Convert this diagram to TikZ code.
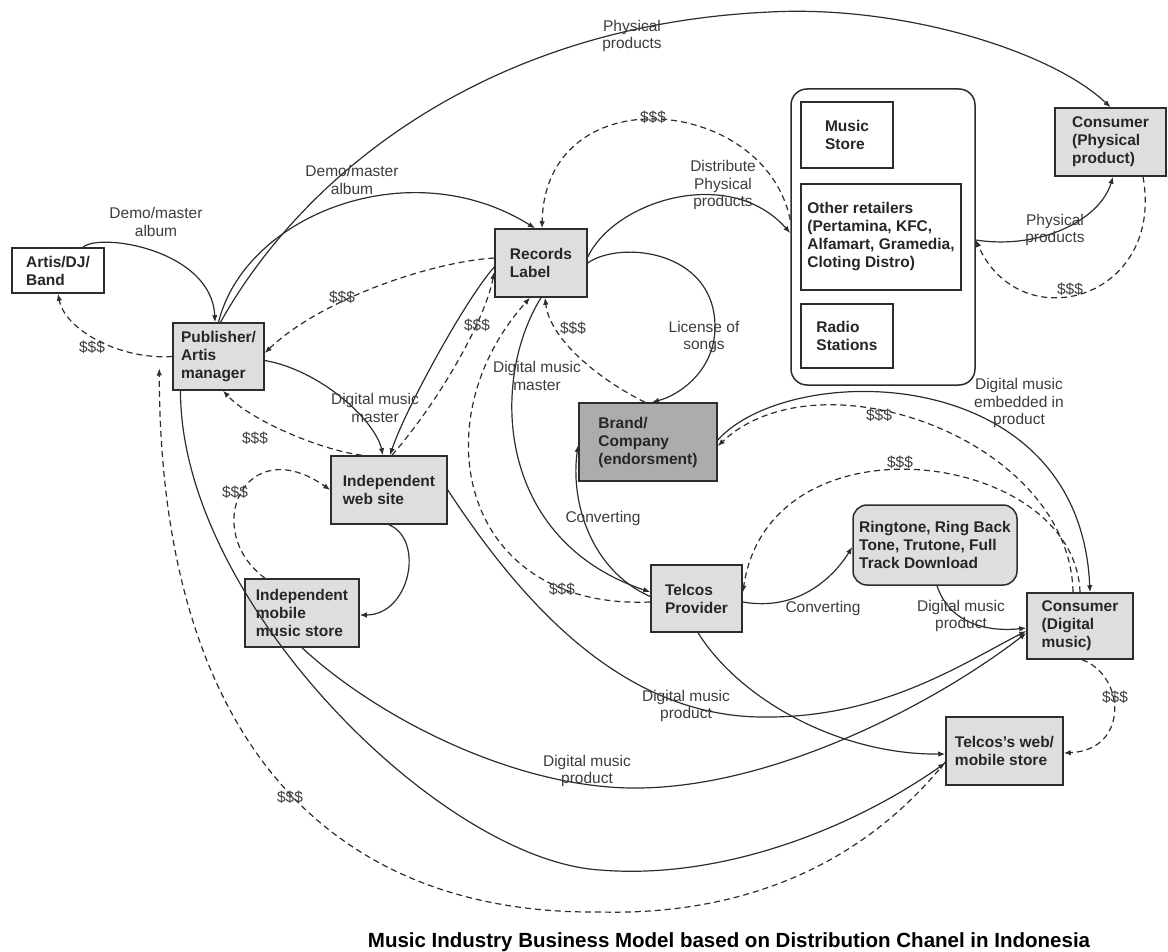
\documentclass[tikz,border=0pt]{standalone}
\usepackage{fontspec}
\setmainfont{Liberation Sans}
\usetikzlibrary{arrows.meta}
\definecolor{boxgray}{RGB}{221,223,221}
\definecolor{brandgray}{RGB}{172,172,172}
\definecolor{linegray}{RGB}{45,45,45}
\definecolor{labelgray}{RGB}{60,60,60}
\begin{document}
\begin{tikzpicture}[x=1pt, y=-1pt,
    box/.style={draw=linegray, line width=1.5pt, fill=boxgray, inner sep=0pt, align=left,
        font=\fontsize{15.5}{18}\selectfont\bfseries, text=black!85},
    lbl/.style={inner sep=0pt, align=center, text=labelgray, font=\fontsize{15.5}{17.5}\selectfont},
    flow/.style={draw=linegray, line width=1.2pt, -{Latex[length=7pt,width=5.5pt]}},
    money/.style={flow, dash pattern=on 6pt off 4pt}]
    \useasboundingbox (0,0) rectangle (1168,952);

    \node[box, fill=white, minimum width=92pt, minimum height=45pt] (artis) at (58,270.5) {Artis/DJ/\\Band};
    \node[box, minimum width=91pt, minimum height=67pt] (pub) at (218.5,356.5) {Publisher/\\Artis\\manager};
    \node[box, minimum width=92pt, minimum height=68pt] (rec) at (541,263) {Records\\Label};
    \node[box, minimum width=116pt, minimum height=68pt] (web) at (389,490) {Independent\\web site};
    \node[box, minimum width=114pt, minimum height=68pt] (mob) at (302,613) {Independent\\mobile\\music store};
    \node[box, fill=brandgray, minimum width=138pt, minimum height=78pt] (brand) at (648,442) {Brand/\\Company\\(endorsment)};
    \node[box, minimum width=91pt, minimum height=67pt] (telco) at (696.5,598.5) {Telcos\\Provider};
    \node[box, rounded corners=14pt, minimum width=164pt, minimum height=80pt] (ring) at (935,545) {Ringtone, Ring Back\\Tone, Trutone, Full\\Track Download};
    \node[box, minimum width=106pt, minimum height=66pt] (consd) at (1080,626) {Consumer\\(Digital\\music)};
    \node[box, minimum width=117pt, minimum height=68pt] (tweb) at (1004.5,751) {Telcos’s web/\\mobile store};
    \node[box, minimum width=111pt, minimum height=68pt] (consp) at (1110.5,142) {Consumer\\(Physical\\product)};
    \node[draw=linegray, line width=1.5pt, rounded corners=16pt, minimum width=184pt, minimum height=296pt, inner sep=0pt] (retail) at (883,237) {};
    \node[box, fill=white, minimum width=92pt, minimum height=66pt] (mstore) at (847,135) {Music\\Store};
    \node[box, fill=white, minimum width=160pt, minimum height=106pt] (others) at (881,237) {Other retailers\\(Pertamina, KFC,\\Alfamart, Gramedia,\\Cloting Distro)};
    \node[box, fill=white, minimum width=92pt, minimum height=64pt] (radio) at (847,336) {Radio\\Stations};

    \draw[flow] ([xshift=25pt]artis.north) .. controls (100,232) and (212,250) .. ([xshift=-3.5pt]pub.north);
    \draw[money] (pub.west) .. controls (120,360) and (65,330) .. (artis.south);
    \draw[flow] (pub.north) .. controls (245,215) and (410,150) .. ([xshift=-6pt]rec.north);
    \draw[flow] ([xshift=2pt]pub.north) .. controls (300,180) and (480,25) .. (770,12) .. controls (900,5) and (1050,50) .. (consp.north);
    \draw[money] ([yshift=5pt]rec.west) .. controls (430,262) and (320,300) .. ([yshift=3.5pt]pub.east);
    \draw[flow] ([yshift=-4pt]pub.east) .. controls (320,370) and (375,420) .. ([xshift=-6pt]web.north);
    \draw[flow] ([yshift=-4pt]rec.west) .. controls (465,300) and (405,410) .. ([xshift=1pt]web.north);
    \draw[money] ([xshift=3pt]web.north) .. controls (440,400) and (485,320) .. ([yshift=-9pt]rec.west);
    \draw[money] ([xshift=-27pt]web.north) .. controls (320,450) and (250,420) .. ([xshift=4.5pt]pub.south);
    \draw[money] ([xshift=-37pt]mob.north) .. controls (200,530) and (245,430) .. (web.west);
    \draw[flow] (web.south) .. controls (425,540) and (410,615) .. ([yshift=-2pt]mob.east);
    \draw[flow] (web.east) .. controls (520,600) and (620,715) .. (760,717) .. controls (880,719) and (960,665) .. ([yshift=-5pt]consd.west);
    \draw[flow] (mob.south) .. controls (380,720) and (520,790) .. (640,788) .. controls (780,786) and (940,700) .. ([yshift=-7pt]consd.west);
    \draw[flow] ([xshift=-38pt]pub.south) .. controls (180,600) and (440,860) .. (600,870) .. controls (720,880) and (850,830) .. ([yshift=-12pt]tweb.west);
    \draw[money] ([yshift=-11pt]tweb.west) .. controls (850,880) and (720,915) .. (600,912) .. controls (330,915) and (160,740) .. ([xshift=-13pt,yshift=-12pt]pub.west);
    \draw[flow] (rec.south) .. controls (490,380) and (495,540) .. ([yshift=6.5pt]telco.west);
    \draw[money] ([yshift=-3.5pt]telco.west) .. controls (460,610) and (420,420) .. ([xshift=-11pt]rec.south);
    \draw[money] ([xshift=-3pt]brand.north) .. controls (600,380) and (550,340) .. ([xshift=4pt]rec.south);
    \draw[flow] (rec.east) .. controls (620,240) and (715,250) .. (715,327) .. controls (715,370) and (680,395) .. ([xshift=4pt]brand.north);
    \draw[flow] ([yshift=6pt]rec.east) .. controls (615,200) and (730,165) .. ([yshift=4pt]retail.west);
    \draw[money] ([yshift=17pt]retail.west) .. controls (765,95) and (545,75) .. ([xshift=1pt]rec.north);
    \draw[flow] ([yshift=-3pt]retail.east) .. controls (1040,250) and (1100,220) .. ([xshift=2.5pt]consp.south);
    \draw[money] ([xshift=32.5pt]consp.south) .. controls (1165,300) and (1020,340) .. ([yshift=-3pt]retail.east);
    \draw[flow] ([yshift=2pt]brand.east) .. controls (790,360) and (1080,360) .. ([xshift=10pt]consd.north);
    \draw[money] ([xshift=-7pt]consd.north) .. controls (1070,440) and (820,350) .. ([yshift=-4pt]brand.east);
    \draw[money] (consd.north) .. controls (1075,450) and (770,410) .. ([yshift=6pt]telco.east);
    \draw[flow] ([yshift=2pt]telco.west) .. controls (590,570) and (570,500) .. ([yshift=-3pt]brand.west);
    \draw[flow] ([yshift=-3.5pt]telco.east) .. controls (800,612) and (835,575) .. ([yshift=-2pt]ring.west);
    \draw[flow] ([xshift=2pt]ring.south) .. controls (950,625) and (990,632) .. ([yshift=-2pt]consd.west);
    \draw[flow] ([xshift=1.5pt]telco.south) .. controls (740,700) and (840,755) .. ([yshift=-3pt]tweb.west);
    \draw[money] ([xshift=2pt]consd.south) .. controls (1125,675) and (1130,750) .. ([yshift=-2pt]tweb.east);

    \node[lbl] (l1) at (156,222) {Demo/master\\album};
    \node[lbl] (l2) at (92,347) {\$\$\$};
    \node[lbl] (l3) at (352,180) {Demo/master\\album};
    \node[lbl] (l4) at (632,36) {Physical\\products};
    \node[lbl] (l5) at (342,297) {\$\$\$};
    \node[lbl] (l6) at (375,408) {Digital music\\master};
    \node[lbl] (l7) at (477,325) {\$\$\$};
    \node[lbl] (l8) at (255,438) {\$\$\$};
    \node[lbl] (l9) at (235,492) {\$\$\$};
    \node[lbl] (l10) at (686,706) {Digital music\\product};
    \node[lbl] (l11) at (587,771) {Digital music\\product};
    \node[lbl] (l12) at (290,797) {\$\$\$};
    \node[lbl] (l13) at (537,376) {Digital music\\master};
    \node[lbl] (l14) at (562,589) {\$\$\$};
    \node[lbl] (l15) at (573,328) {\$\$\$};
    \node[lbl] (l16) at (704,337) {License of\\songs};
    \node[lbl] (l17) at (723,185) {Distribute\\Physical\\products};
    \node[lbl] (l18) at (653,117) {\$\$\$};
    \node[lbl] (l19) at (1055,230) {Physical\\products};
    \node[lbl] (l20) at (1070,289) {\$\$\$};
    \node[lbl] (l21) at (1019,403) {Digital music\\embedded in\\product};
    \node[lbl] (l22) at (879,415) {\$\$\$};
    \node[lbl] (l23) at (900,462) {\$\$\$};
    \node[lbl] (l24) at (603,518) {Converting};
    \node[lbl] (l25) at (823,608) {Converting};
    \node[lbl] (l26) at (961,616) {Digital music\\product};
    \node[lbl] (l27) at (1115,697) {\$\$\$};

    \node[anchor=base, inner sep=0pt, font=\fontsize{20.5}{24}\selectfont\bfseries] (title) at (729,947) {Music Industry Business Model based on Distribution Chanel in Indonesia};
\end{tikzpicture}
\end{document}
